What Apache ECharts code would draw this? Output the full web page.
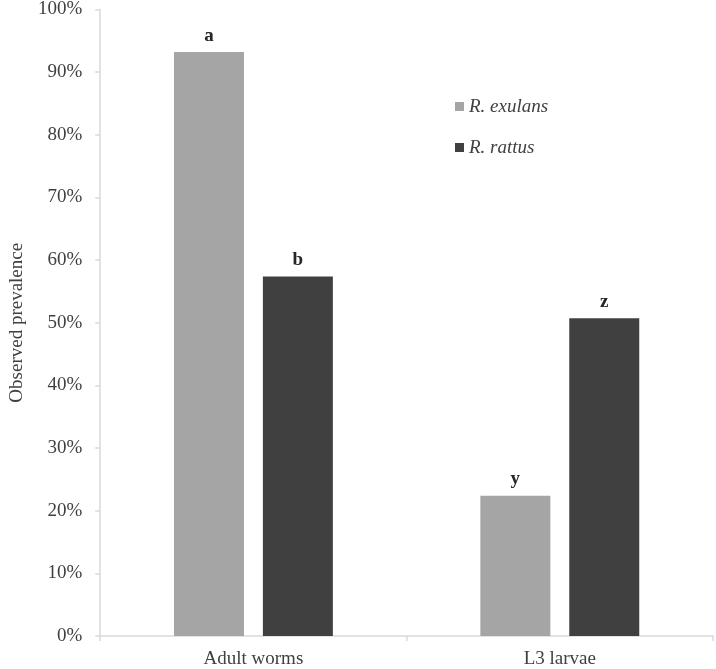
<!DOCTYPE html>
<html>
<head>
<meta charset="utf-8">
<script src="https://cdn.jsdelivr.net/npm/echarts@6/dist/echarts.min.js"></script>
<style>
  html, body { margin: 0; padding: 0; background: #fff; }
  #chart { width: 716px; height: 669px; }
</style>
</head>
<body>
<div id="chart"></div>
<script>
// data
const categories = ['Adult worms', 'L3 larvae']
const exulansValues = [93.2, 22.4]
const rattusValues = [57.4, 50.7]
const exulansLetters = ['a', 'y']
const rattusLetters = ['b', 'z']
const yTicks = [0, 10, 20, 30, 40, 50, 60, 70, 80, 90, 100]

const serif = '"Liberation Serif", "DejaVu Serif", serif'
const axisGray = '#d9d9d9'

const chart = echarts.init(document.getElementById('chart'))

function letterLabel(letters) {
  return {
    show: true,
    position: 'top',
    distance: 7,
    fontFamily: serif,
    fontWeight: 'bold',
    fontSize: 19,
    color: '#262626',
    formatter: p => letters[p.dataIndex]
  }
}

chart.setOption({
  animation: false,
  grid: {
    left: 92,
    right: 3,
    top: 9.5,
    bottom: 30.5,
    containLabel: false
  },
  legend: {
    orient: 'vertical',
    left: 450,
    top: 92,
    itemWidth: 9,
    itemHeight: 9,
    itemGap: 22,
    icon: 'rect',
    data: ['R. exulans', 'R. rattus'],
    textStyle: {
      fontFamily: serif,
      fontStyle: 'italic',
      fontSize: 19,
      color: '#404040'
    }
  },
  xAxis: {
    type: 'category',
    data: categories,
    axisLine: { lineStyle: { color: axisGray, width: 1.5 } },
    axisTick: { show: true, length: 5, lineStyle: { color: axisGray, width: 1.5 } },
    axisLabel: {
      margin: 14,
      fontFamily: serif,
      fontSize: 19,
      color: '#404040'
    },
    splitLine: { show: false }
  },
  yAxis: {
    type: 'value',
    min: yTicks[0],
    max: yTicks[yTicks.length - 1],
    interval: 10,
    name: 'Observed prevalence',
    nameLocation: 'middle',
    nameGap: 73,
    nameTextStyle: {
      fontFamily: serif,
      fontSize: 19,
      color: '#404040'
    },
    axisLine: { show: true, lineStyle: { color: axisGray, width: 1.5 } },
    axisTick: { show: true, length: 5, lineStyle: { color: axisGray, width: 1.5 } },
    axisLabel: {
      margin: 18,
      fontFamily: serif,
      fontSize: 19,
      color: '#404040',
      formatter: '{value}%'
    },
    splitLine: { show: false }
  },
  series: [
    {
      name: 'R. exulans',
      type: 'bar',
      barWidth: 70,
      barGap: '27%',
      itemStyle: { color: '#a5a5a5' },
      label: letterLabel(exulansLetters),
      data: exulansValues
    },
    {
      name: 'R. rattus',
      type: 'bar',
      barWidth: 70,
      itemStyle: { color: '#404040' },
      label: letterLabel(rattusLetters),
      data: rattusValues
    }
  ]
})
</script>
</body>
</html>
